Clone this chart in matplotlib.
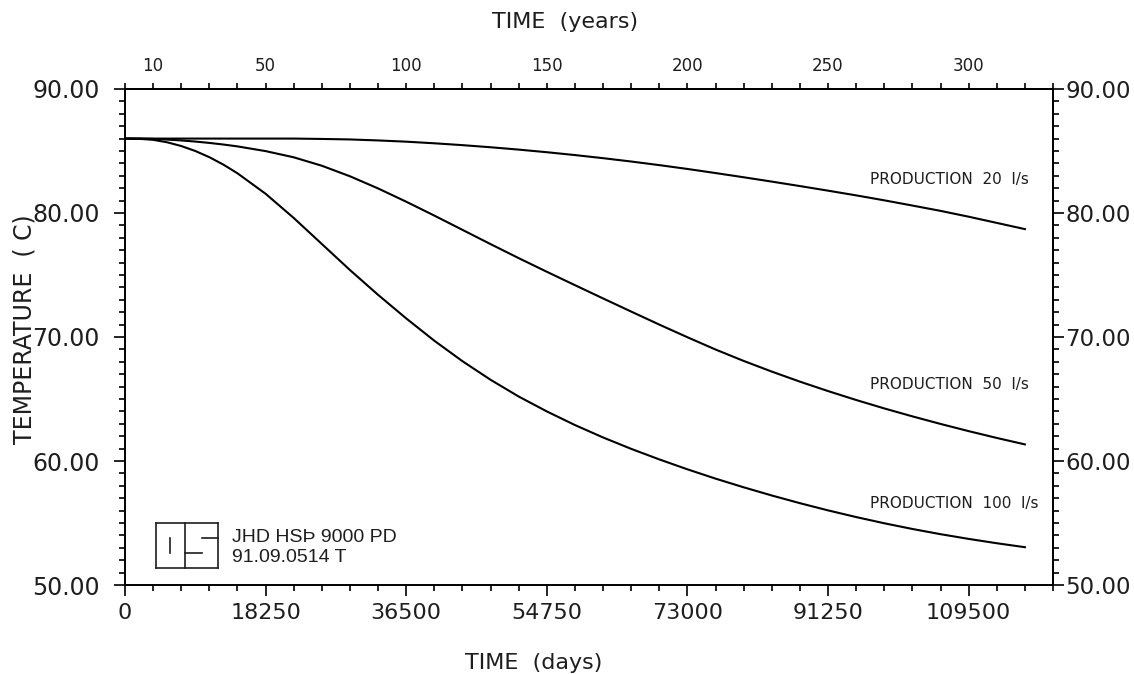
import matplotlib
matplotlib.use("Agg")
import matplotlib.pyplot as plt
from matplotlib.ticker import MultipleLocator, FixedLocator, FuncFormatter
from matplotlib.lines import Line2D
import numpy as np

# time in years, temperature in C
years = np.array([0, 5, 10, 15, 20, 25, 30, 35, 40, 50, 60, 70, 80, 90, 100,
                  110, 120, 130, 140, 150, 160, 170, 180, 190, 200, 210, 220,
                  230, 240, 250, 260, 270, 280, 290, 300, 310, 320])
temp_20 = np.array([86.0, 86.0, 86.0, 86.0, 86.0, 86.0, 86.0, 86.0, 86.0, 86.0,
                    86.0, 85.97, 85.93, 85.85, 85.75, 85.62, 85.47, 85.3, 85.11,
                    84.9, 84.67, 84.42, 84.15, 83.86, 83.55, 83.22, 82.88, 82.53,
                    82.17, 81.8, 81.42, 81.02, 80.6, 80.17, 79.7, 79.2, 78.7])
temp_50 = np.array([86.0, 86.0, 85.97, 85.92, 85.85, 85.76, 85.65, 85.52, 85.37,
                    84.99, 84.49, 83.81, 82.96, 81.98, 80.91, 79.79, 78.64, 77.49,
                    76.36, 75.26, 74.18, 73.11, 72.05, 71.0, 69.98, 68.99, 68.07,
                    67.21, 66.4, 65.64, 64.92, 64.24, 63.6, 62.99, 62.41, 61.86,
                    61.34])
temp_100 = np.array([86.0, 85.98, 85.9, 85.7, 85.4, 85.0, 84.5, 83.9, 83.2,
                     81.55, 79.6, 77.5, 75.4, 73.4, 71.5, 69.7, 68.05, 66.55,
                     65.2, 64.0, 62.9, 61.9, 60.98, 60.13, 59.33, 58.58, 57.88,
                     57.22, 56.6, 56.02, 55.48, 54.98, 54.52, 54.1, 53.72, 53.37,
                     53.05])
labels = ["PRODUCTION  20  l/s", "PRODUCTION  50  l/s", "PRODUCTION  100  l/s"]
label_y = [82.7, 66.2, 56.6]

days = years * 365
xmax_days = 330 * 365
year_ticks = [10, 50, 100, 150, 200, 250, 300]
day_ticks = [0, 18250, 36500, 54750, 73000, 91250, 109500]
temp_ticks = [50, 60, 70, 80, 90]
ink = "#1e1e1e"


def px(x, y):
    return x / 1134.0, 1 - y / 674.0


fig = plt.figure(figsize=(11.34, 6.74), dpi=100)
ax = fig.add_axes([0.1102, 0.132, 0.8184, 0.736])

for t in (temp_20, temp_50, temp_100):
    ax.plot(days, t, color="black", lw=1.5)

for lab, ly in zip(labels, label_y):
    ax.text(96700, ly, lab, fontsize=11, va="center", ha="left", color=ink)

ax.set_xlim(0, xmax_days)
ax.set_ylim(50, 90)
ax.xaxis.set_major_locator(FixedLocator(day_ticks))
ax.xaxis.set_minor_locator(MultipleLocator(3650))
ax.yaxis.set_major_locator(FixedLocator(temp_ticks))
ax.yaxis.set_minor_locator(MultipleLocator(1))
fmt = FuncFormatter(lambda v, p: "%.2f" % v)
ax.yaxis.set_major_formatter(fmt)

ax.tick_params(which="both", direction="out", width=1.2, color="black",
               labelcolor=ink)
ax.tick_params(axis="x", which="major", length=8, pad=5, labelsize=16)
ax.tick_params(axis="y", which="major", length=8, pad=10, labelsize=17)
ax.tick_params(which="minor", length=4)
for s in ax.spines.values():
    s.set_linewidth(1.4)

ax.set_xlabel("TIME  (days)", fontsize=16, color=ink, va="center")
ax.xaxis.set_label_coords(0.44, -0.157)
ax.set_ylabel("TEMPERATURE  ( C)", fontsize=17, color=ink, va="center", ha="center")
ax.yaxis.set_label_coords(-0.108, 0.515)

right = ax.secondary_yaxis("right")
right.yaxis.set_major_locator(FixedLocator(temp_ticks))
right.yaxis.set_minor_locator(MultipleLocator(1))
right.yaxis.set_major_formatter(fmt)
right.tick_params(which="both", direction="out", width=1.2, labelcolor=ink)
right.tick_params(which="major", length=8, pad=1, labelsize=16.5)
right.tick_params(which="minor", length=4)
right.spines["right"].set_linewidth(1.4)

top = ax.secondary_xaxis("top", functions=(lambda d: d / 365.0, lambda y: y * 365.0))
top.xaxis.set_major_locator(FixedLocator(year_ticks))
top.xaxis.set_minor_locator(MultipleLocator(10))
top.tick_params(which="both", direction="out", length=4, width=1.2,
                labelsize=12, labelcolor=ink, pad=6)
top.spines["top"].set_linewidth(1.4)
fig.text(*px(565, 22), "TIME  (years)", fontsize=16, color=ink,
         ha="center", va="center")

# logo box in the lower left corner
segs = [
    [(156, 523), (218, 523)], [(156, 568), (218, 568)],
    [(156, 523), (156, 568)], [(218, 523), (218, 568)],
    [(185, 523), (185, 568)], [(170, 538), (170, 553)],
    [(202, 538), (218, 538)], [(185, 553), (202, 553)],
]
for a, b in segs:
    (x0, y0), (x1, y1) = px(*a), px(*b)
    fig.add_artist(Line2D([x0, x1], [y0, y1], color=ink, lw=1.2))

fig.text(*px(232, 537), "JHD HSÞ 9000 PD", fontsize=14, family="Liberation Sans",
         va="center", ha="left", color=ink)
fig.text(*px(232, 557), "91.09.0514 T", fontsize=14, family="Liberation Sans",
         va="center", ha="left", color=ink)

fig.savefig("out.png", dpi=100)
